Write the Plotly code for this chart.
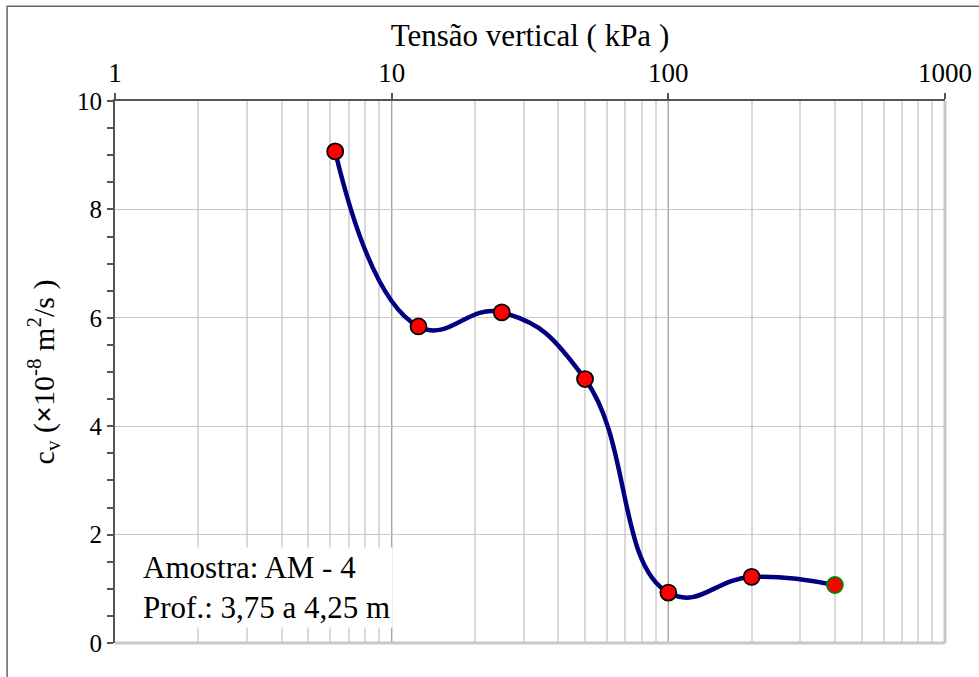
import plotly.graph_objects as go

pressure = [6.25, 12.5, 25, 50, 100, 200, 400]
cv = [9.07, 5.84, 6.10, 4.87, 0.93, 1.22, 1.07]
marker_edges = ["black", "black", "black", "black", "black", "black", "green"]
x_ticks = [1, 10, 100, 1000]
y_ticks = [0, 2, 4, 6, 8, 10]

FONT = "Liberation Serif, Times New Roman, serif"

fig = go.Figure()
fig.add_trace(go.Scatter(
    x=pressure, y=cv, mode="lines+markers",
    line=dict(color="#000080", width=4.5, shape="spline", smoothing=1.3),
    marker=dict(size=16, color="#ff0000", line=dict(color=marker_edges, width=1.8)),
    showlegend=False, hoverinfo="x+y",
))

fig.update_layout(
    width=979, height=677,
    margin=dict(l=115, r=34, t=101, b=34),
    paper_bgcolor="white", plot_bgcolor="white",
    font=dict(family=FONT, color="black"),
    xaxis=dict(
        type="log", range=[0, 3], side="top", automargin=False,
        tickvals=x_ticks, ticktext=[str(v) for v in x_ticks],
        tickfont=dict(size=27, family=FONT),
        ticks="outside", ticklen=6, tickcolor="#555", tickwidth=1.5,
        showline=True, linecolor="#555", linewidth=2,
        showgrid=True, gridcolor="#a6a6a6", gridwidth=1.2,
        minor=dict(dtick="D1", showgrid=True, gridcolor="#d9d9d9", gridwidth=1.5, ticks=""),
        zeroline=False,
        title=dict(text="Tensão vertical ( kPa )", font=dict(size=31, family=FONT), standoff=2),
    ),
    yaxis=dict(
        range=[0, 10], tickvals=y_ticks, automargin=False,
        tickfont=dict(size=25, family=FONT),
        ticks="outside", ticklen=6, tickcolor="#555", tickwidth=1.5,
        minor=dict(dtick=0.5, ticks="outside", ticklen=6, tickcolor="#555", showgrid=False),
        showline=True, linecolor="#555", linewidth=2,
        showgrid=True, gridcolor="#c8c8c8", gridwidth=1.2,
        zeroline=False,
        title=dict(text="c<sub>v</sub> (<b>×</b>10<sup>-8</sup> m<sup>2</sup>/s )",
                   font=dict(size=30, family=FONT), standoff=14),
    ),
    shapes=[
        dict(type="line", xref="paper", yref="paper", x0=0, x1=1, y0=0, y1=0,
             line=dict(color="#c8c8c8", width=3), layer="above"),
        dict(type="line", xref="paper", yref="paper", x0=1, x1=1, y0=0, y1=1,
             line=dict(color="#c8c8c8", width=3), layer="below"),
        dict(type="rect", xref="paper", yref="paper", x0=-0.130, x1=1.2, y0=-0.3, y1=1.175,
             line=dict(color="#666", width=1.5), layer="below"),
    ],
    annotations=[
        dict(xref="paper", yref="paper", x=0.03, y=0.178, xanchor="left", yanchor="top",
             align="left", showarrow=False, bgcolor="white", borderpad=2,
             text="Amostra: AM - 4<br>Prof.: 3,75 a 4,25 m",
             font=dict(size=31, family=FONT, color="black")),
    ],
)

fig.write_html("out.html")
